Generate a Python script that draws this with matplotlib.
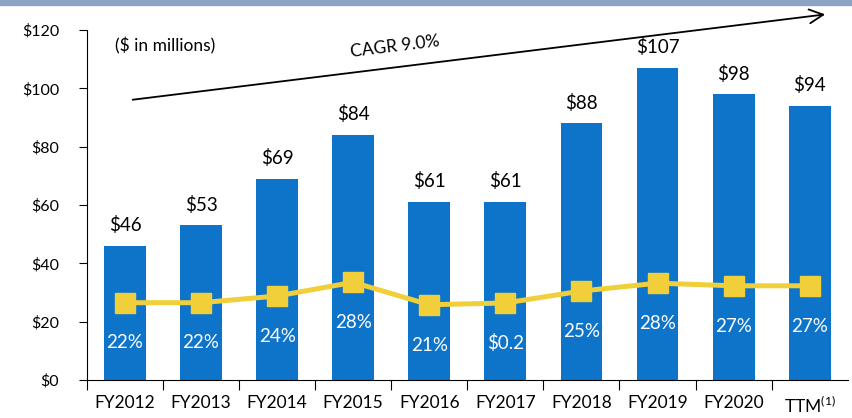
import matplotlib.pyplot as plt
from matplotlib.patches import Rectangle

years = ['FY2012', 'FY2013', 'FY2014', 'FY2015', 'FY2016', 'FY2017',
         'FY2018', 'FY2019', 'FY2020', r'TTM$^{\mathregular{(1)}}$']
revenue = [46, 53, 69, 84, 61, 61, 88, 107, 98, 94]
margin_line = [26.5, 26.5, 28.8, 33.5, 25.8, 26.4, 30.5, 33.2, 32.3, 32.3]
margin_labels = ['22%', '22%', '24%', '28%', '21%', '$0.2', '25%', '28%', '27%', '27%']

plt.rcParams['font.family'] = ['Lato', 'DejaVu Sans']

fig = plt.figure(figsize=(8.52, 4.18), dpi=100)
ax = fig.add_axes([0.102, 0.091, 0.893, 0.837])

fig.patches.append(Rectangle((0, 0.988), 1, 0.012, transform=fig.transFigure,
                             color='#8aa3c4', zorder=0))

x = list(range(len(years)))
ax.bar(x, revenue, width=0.55, color='#0e74c9', zorder=2)
for xi, v in zip(x, revenue):
    ax.text(xi, v + 4, f'${v}', ha='center', va='bottom', fontsize=13.5)

ax.plot(x, margin_line, color='#f0cf3a', linewidth=3.6, marker='s',
        markersize=15, zorder=3)
for xi, m, lab in zip(x, margin_line, margin_labels):
    ax.annotate(lab, (xi, m), xytext=(0, -29), textcoords='offset points',
                ha='center', va='center', color='white', fontsize=13.5, zorder=4)

ax.set_xlim(-0.5, 9.5)
ax.set_ylim(0, 120)
ax.set_yticks(range(0, 121, 20))
ax.set_yticklabels([f'${t}' for t in range(0, 121, 20)], fontsize=11.5)
ax.set_xticks([i - 0.5 for i in range(len(years))])
ax.set_xticklabels([])
ax.set_xticks(x, minor=True)
ax.set_xticklabels(years, minor=True, fontsize=12.5)
ax.tick_params(axis='x', which='minor', length=0, pad=11)
ax.tick_params(axis='x', which='major', length=7, direction='out')
ax.tick_params(axis='y', length=6, direction='out', pad=14)
for s in ['top', 'right']:
    ax.spines[s].set_visible(False)

ax.text(-0.13, 114.5, '($ in millions)', fontsize=12.5, va='center')
ax.annotate('', xy=(9.24, 125.5), xytext=(0.065, 96), xycoords='data',
            annotation_clip=False,
            arrowprops=dict(arrowstyle='->', color='black', lw=1.3,
                            mutation_scale=25))
ax.text(3.55, 114.5, 'CAGR 9.0%', fontsize=12.5, rotation=7,
        ha='center', va='center')

fig.savefig('out.png', dpi=100)
